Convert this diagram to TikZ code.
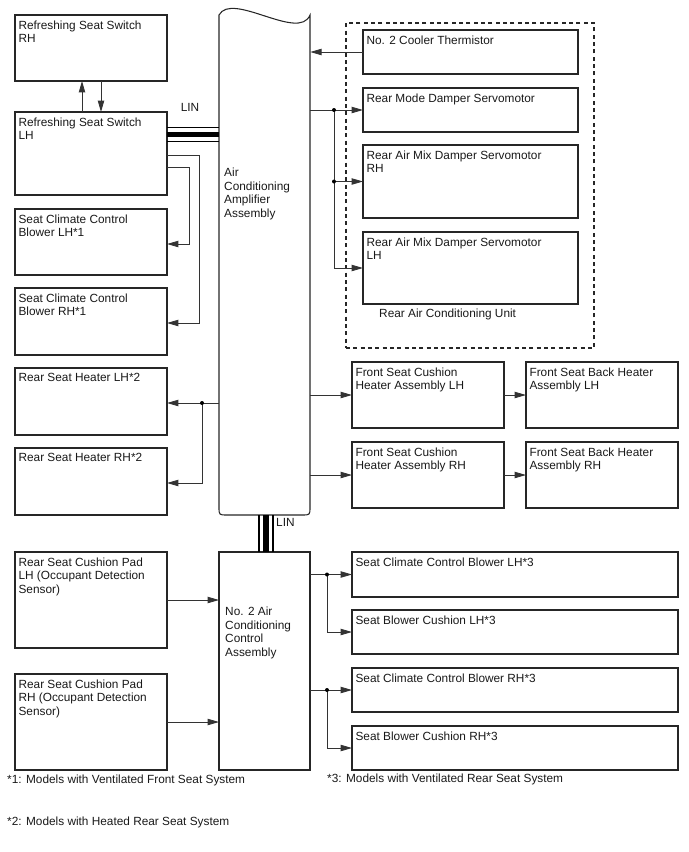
\documentclass[tikz,border=0pt]{standalone}
\usepackage{fontspec}
\setmainfont{Liberation Sans}
\usetikzlibrary{arrows.meta,fit,calc}

\begin{document}
\begin{tikzpicture}[
  x=0.3mm, y=-0.3mm,
  font=\fontsize{10.1}{11.6}\selectfont,
  unit/.style={
    draw=black!85,
    line width=0.9pt,
    inner sep=0pt,
    outer sep=0pt
  },
  utext/.style={
    anchor=north west,
    align=left,
    inner xsep=1mm,
    inner ysep=1.6mm,
    text=black!90
  },
  plain/.style={align=left, inner sep=0pt, text=black!90},
  wire/.style={line width=0.7pt, draw=black!80},
  arr/.style={
    wire,
    -{Triangle[length=3.4mm,width=1.9mm]}
  },
  rearbox/.style={
    unit,
    dash pattern=on 1.2mm off 1mm
  }
]

\useasboundingbox (0,0) rectangle (688,852);

% left column
\node[unit, fit={(15,15)(167,81)},
  label={[utext]north west:{Refreshing Seat Switch\\RH}}] (rswrh) {};
\node[unit, fit={(15,112)(167,195)},
  label={[utext]north west:{Refreshing Seat Switch\\LH}}] (rswlh) {};
\node[unit, fit={(15,209)(167,275)},
  label={[utext]north west:{Seat Climate Control\\Blower LH*1}}] (scblh1) {};
\node[unit, fit={(15,288)(167,355)},
  label={[utext]north west:{Seat Climate Control\\Blower RH*1}}] (scbrh1) {};
\node[unit, fit={(15,368)(167,435)},
  label={[utext]north west:{Rear Seat Heater LH*2}}] (rshlh) {};
\node[unit, fit={(15,448)(167,515)},
  label={[utext]north west:{Rear Seat Heater RH*2}}] (rshrh) {};
\node[unit, fit={(15,552)(167,648)},
  label={[utext]north west:{Rear Seat Cushion Pad\\LH (Occupant Detection\\Sensor)}}] (padlh) {};
\node[unit, fit={(15,674)(167,770)},
  label={[utext]north west:{Rear Seat Cushion Pad\\RH (Occupant Detection\\Sensor)}}] (padrh) {};

% amplifier (torn top edge)
\node[fit={(219,15)(310,515)}, inner sep=0pt] (amp) {};
\draw[unit] (219,15) .. controls (232,-9) and (299,42) .. (310,15)
  -- (310,507) .. controls (310,515) .. (302,515)
  -- (227,515) .. controls (219,515) .. (219,507) -- cycle;
\node[plain, anchor=north west] (amptext) at (224,168)
  {Air\\Conditioning\\Amplifier\\Assembly};

\node[unit, fit={(219,552)(310,770)}] (ctrl) {};
\node[plain, anchor=north west] (ctrltext) at (225,607)
  {No. 2 Air\\Conditioning\\Control\\Assembly};

% rear air conditioning unit
\node[rearbox, fit={(346,23)(594,348)}] (rearunit) {};
\node[unit, fit={(363,30)(578,74)},
  label={[utext]north west:{No. 2 Cooler Thermistor}}] (thermo) {};
\node[unit, fit={(363,88)(578,132)},
  label={[utext]north west:{Rear Mode Damper Servomotor}}] (rmode) {};
\node[unit, fit={(363,145)(578,218)},
  label={[utext]north west:{Rear Air Mix Damper Servomotor\\RH}}] (amixrh) {};
\node[unit, fit={(363,232)(578,304)},
  label={[utext]north west:{Rear Air Mix Damper Servomotor\\LH}}] (amixlh) {};
\node[plain, anchor=west] (rearlbl) at (379,314) {Rear Air Conditioning Unit};

% front seat heaters
\node[unit, fit={(352,362)(504,428)},
  label={[utext]north west:{Front Seat Cushion\\Heater Assembly LH}}] (fschlh) {};
\node[unit, fit={(526,362)(678,428)},
  label={[utext]north west:{Front Seat Back Heater\\Assembly LH}}] (fsbhlh) {};
\node[unit, fit={(352,442)(504,508)},
  label={[utext]north west:{Front Seat Cushion\\Heater Assembly RH}}] (fschrh) {};
\node[unit, fit={(526,442)(678,508)},
  label={[utext]north west:{Front Seat Back Heater\\Assembly RH}}] (fsbhrh) {};

% rear seat blowers
\node[unit, fit={(352,552)(678,597)},
  label={[utext]north west:{Seat Climate Control Blower LH*3}}] (scblh3) {};
\node[unit, fit={(352,610)(678,654)},
  label={[utext]north west:{Seat Blower Cushion LH*3}}] (sbclh) {};
\node[unit, fit={(352,668)(678,712)},
  label={[utext]north west:{Seat Climate Control Blower RH*3}}] (scbrh3) {};
\node[unit, fit={(352,726)(678,770)},
  label={[utext]north west:{Seat Blower Cushion RH*3}}] (sbcrh) {};

% LIN buses
\foreach \yy/\ww in {127.3/1.3pt, 134.5/4.7pt, 141.7/1.3pt}
  \draw[line width=\ww] (rswlh.east |- 0,\yy) -- (amp.west |- 0,\yy);
\node[plain] (lintop) at (190,107) {LIN};

\foreach \xx/\ww in {259/1.3pt, 266/4.7pt, 273/1.3pt}
  \draw[line width=\ww] (amp.south -| \xx,0) -- (ctrl.north -| \xx,0);
\node[plain, anchor=west] (linbot) at (276,522) {LIN};

% switch connections
\draw[arr] ($(rswlh.north)+(-9,0)$) -- ($(rswrh.south)+(-9,0)$);
\draw[arr] ($(rswrh.south)+(10,0)$) -- ($(rswlh.north)+(10,0)$);
\draw[arr] (rswlh.east |- 0,167) -- ++(22,0) |- (scblh1.east |- 0,244);
\draw[arr] (rswlh.east |- 0,155) -- ++(32,0) |- (scbrh1.east |- 0,323);

% rear seat heaters
\coordinate (jheat) at (202,403);
\draw[arr] (amp.west |- jheat) -- (rshlh.east |- jheat);
\draw[arr] (jheat) |- (rshrh.east |- 0,483);
\fill (jheat) circle[radius=0.6mm];

% rear unit
\draw[arr] (thermo.west) -- (amp.east |- thermo.west);
\coordinate (jrear) at (rmode.west -| 334,0);
\draw[arr] (amp.east |- rmode.west) -- (rmode.west);
\draw[arr] (jrear) |- (amixrh.west);
\draw[arr] (jrear) |- (amixlh.west);
\fill (jrear) circle[radius=0.6mm];
\fill (jrear |- amixrh.west) circle[radius=0.6mm];

% front seat heaters
\draw[arr] (amp.east |- fschlh.west) -- (fschlh.west);
\draw[arr] (fschlh.east) -- (fsbhlh.west);
\draw[arr] (amp.east |- fschrh.west) -- (fschrh.west);
\draw[arr] (fschrh.east) -- (fsbhrh.west);

% occupant detection
\draw[arr] (padlh.east) -- (ctrl.west |- padlh.east);
\draw[arr] (padrh.east) -- (ctrl.west |- padrh.east);

% rear seat blowers
\coordinate (jlh) at (scblh3.west -| 327,0);
\coordinate (jrh) at (scbrh3.west -| 327,0);
\draw[arr] (ctrl.east |- scblh3.west) -- (scblh3.west);
\draw[arr] (jlh) |- (sbclh.west);
\draw[arr] (ctrl.east |- scbrh3.west) -- (scbrh3.west);
\draw[arr] (jrh) |- (sbcrh.west);
\fill (jlh) circle[radius=0.6mm];
\fill (jrh) circle[radius=0.6mm];

% notes
\node[plain, anchor=west] (fn1) at (7,780) {*1: Models with Ventilated Front Seat System};
\node[plain, anchor=west] (fn3) at (327,779) {*3: Models with Ventilated Rear Seat System};
\node[plain, anchor=west] (fn2) at (7,822) {*2: Models with Heated Rear Seat System};

\end{tikzpicture}
\end{document}
